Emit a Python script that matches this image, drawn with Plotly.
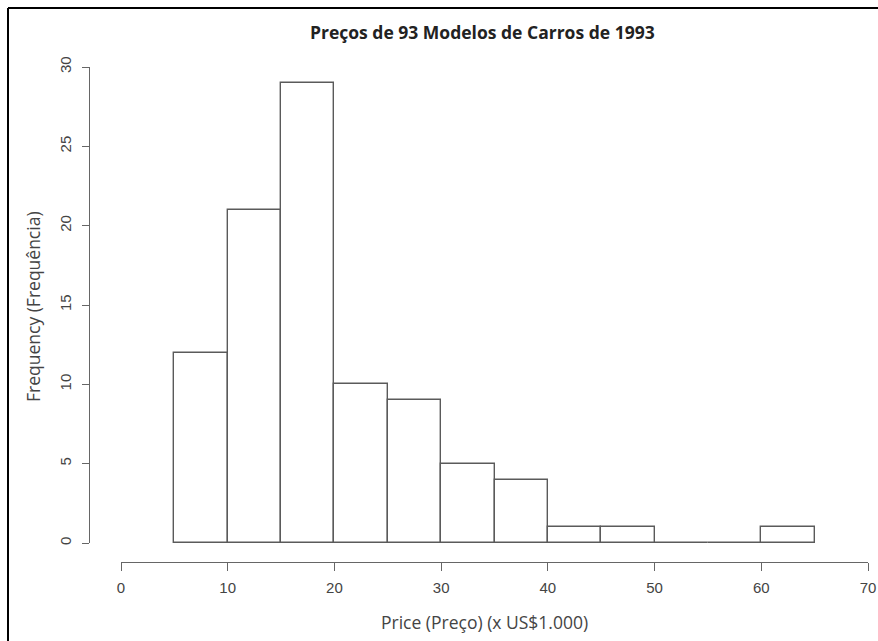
import plotly.graph_objects as go

# Histogram of 1993 car prices (thousands of US$), 5k-wide bins
bin_starts = [5, 10, 15, 20, 25, 30, 35, 40, 45, 50, 55, 60]
counts = [12, 21, 29, 10, 9, 5, 4, 1, 1, 0, 0, 1]
bin_width = 5

x_ticks = [0, 10, 20, 30, 40, 50, 60, 70]
y_ticks = [0, 5, 10, 15, 20, 25, 30]

W, H = 878, 641
TITLE_FONT = "Open Sans"
TICK_FONT = "Liberation Sans"


def px_x(p):
    return p / W


def px_y(p):
    return (H - p) / H


centers = [s + bin_width / 2 for s in bin_starts]

fig = go.Figure()
fig.add_trace(go.Bar(
    x=centers,
    y=counts,
    width=[bin_width] * len(counts),
    marker=dict(color="white", line=dict(color="#5a5a5a", width=1.4)),
    hoverinfo="skip",
))

axis_common = dict(
    anchor="free",
    automargin=False,
    showline=True,
    linecolor="#666666",
    linewidth=1.4,
    ticks="outside",
    tickwidth=1.4,
    tickcolor="#666666",
    tickfont=dict(family=TICK_FONT, size=15, color="#444444"),
    showgrid=False,
    zeroline=False,
    fixedrange=True,
)

fig.update_layout(
    template="none",
    width=W,
    height=H,
    autosize=False,
    margin=dict(l=0, r=0, t=0, b=0, pad=0),
    paper_bgcolor="white",
    plot_bgcolor="white",
    showlegend=False,
    bargap=0,
    xaxis=dict(
        axis_common,
        domain=[px_x(121), px_x(868)],
        range=[0, 70],
        position=px_y(562),
        ticklen=8,
        ticklabelstandoff=4,
        tickvals=x_ticks,
        ticktext=[str(v) for v in x_ticks],
    ),
    yaxis=dict(
        axis_common,
        domain=[px_y(543), px_y(67)],
        range=[0, 30],
        position=px_x(89),
        ticklen=7,
        ticklabelstandoff=5,
        tickvals=y_ticks,
        ticktext=[str(v) for v in y_ticks],
        tickangle=-90,
    ),
    annotations=[
        dict(
            text="<b>Preços de 93 Modelos de Carros de 1993</b>",
            x=px_x(483), y=px_y(32), xref="paper", yref="paper",
            xanchor="center", yanchor="middle", showarrow=False,
            font=dict(family=TITLE_FONT, size=17.5, color="#222222"),
        ),
        dict(
            text="Price (Preço) (x US$1.000)",
            x=px_x(485), y=px_y(622), xref="paper", yref="paper",
            xanchor="center", yanchor="middle", showarrow=False,
            font=dict(family=TITLE_FONT, size=17.5, color="#444444"),
        ),
        dict(
            text="Frequency (Frequência)",
            x=px_x(33), y=px_y(307), xref="paper", yref="paper",
            xanchor="center", yanchor="middle", showarrow=False,
            textangle=-90,
            font=dict(family=TITLE_FONT, size=17.5, color="#444444"),
        ),
    ],
    shapes=[
        # frame edges along the top and left of the image
        dict(type="line", xref="paper", yref="paper",
             x0=px_x(8), x1=1, y0=px_y(8), y1=px_y(8),
             line=dict(color="black", width=2)),
        dict(type="line", xref="paper", yref="paper",
             x0=px_x(8), x1=px_x(8), y0=px_y(8), y1=0,
             line=dict(color="black", width=2)),
    ],
)

fig.write_html("out.html", config={"displayModeBar": False})
